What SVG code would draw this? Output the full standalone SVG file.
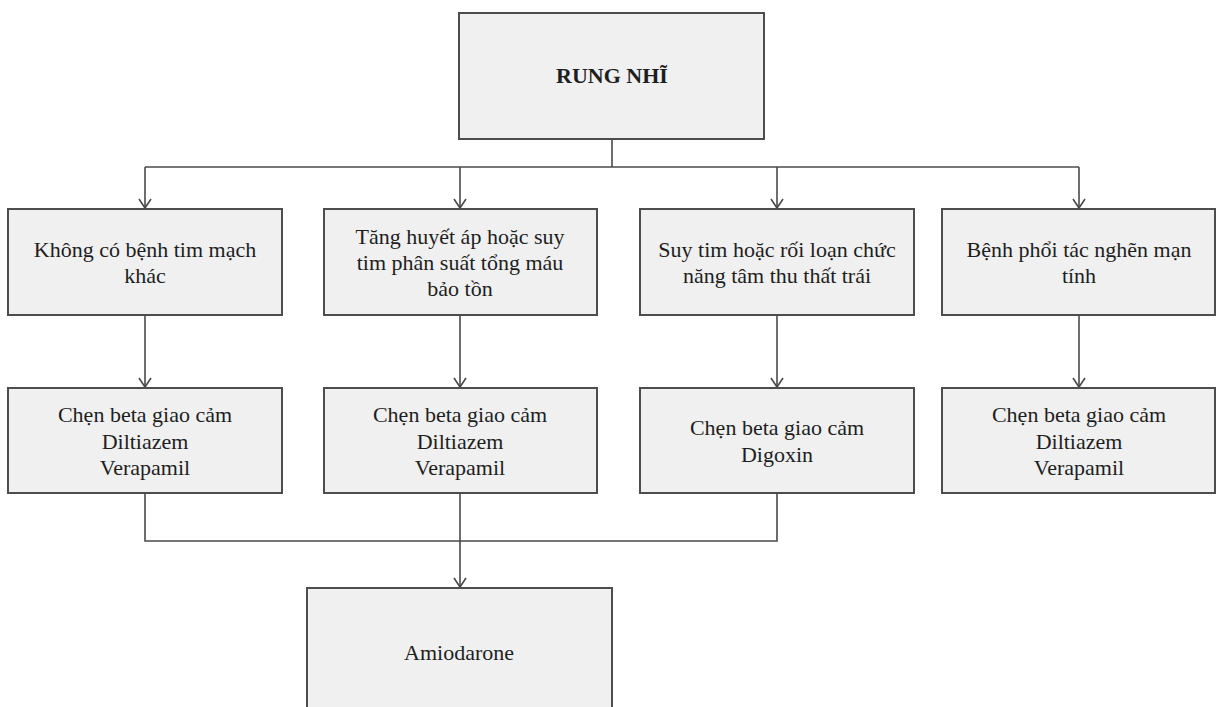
<svg xmlns="http://www.w3.org/2000/svg" width="1221" height="707" viewBox="0 0 1221 707">
  <style>
    .box { fill: #f0f0f0; stroke: #4d4d4d; stroke-width: 2; }
    .lbl { font-family: "Liberation Serif", "Times New Roman", serif; font-size: 22px; fill: #1e1e1e; text-anchor: middle; }
    .title { font-weight: bold; }
    .wire { fill: none; stroke: #4a4a4a; stroke-width: 1.6; }
  </style>
  <defs>
    <!-- open chevron head; marker x axis follows the line direction -->
    <marker id="arrow" markerUnits="userSpaceOnUse" markerWidth="14" markerHeight="16" viewBox="-12 -8 14 16" refX="0" refY="0" orient="auto">
      <path d="M-9,-6 L0,0 L-9,6" fill="none" stroke="#4a4a4a" stroke-width="1.6"/>
    </marker>
  </defs>
  <rect width="1221" height="707" fill="#ffffff"/>

  <!-- connectors -->
  <g id="connectors" class="wire">
    <path d="M612,139 V167"/>
    <path d="M145,167 H1079"/>
    <path d="M145,167 V208" marker-end="url(#arrow)"/>
    <path d="M460,167 V208" marker-end="url(#arrow)"/>
    <path d="M777,167 V208" marker-end="url(#arrow)"/>
    <path d="M1079,167 V208" marker-end="url(#arrow)"/>
    <path d="M145,315 V387" marker-end="url(#arrow)"/>
    <path d="M460,315 V387" marker-end="url(#arrow)"/>
    <path d="M777,315 V387" marker-end="url(#arrow)"/>
    <path d="M1079,315 V387" marker-end="url(#arrow)"/>
    <path d="M145,493 V541 H777 V493"/>
    <path d="M460,493 V587" marker-end="url(#arrow)"/>
  </g>

  <!-- root -->
  <g id="node-rung-nhi">
    <rect class="box" x="459" y="13" width="305" height="126"/>
    <text class="lbl title" x="612" y="83">RUNG NHĨ</text>
  </g>

  <!-- conditions -->
  <g id="node-khong-benh">
    <rect class="box" x="8" y="209" width="274" height="106"/>
    <text class="lbl" x="145" y="257">Không có bệnh  tim mạch</text>
    <text class="lbl" x="145" y="283">khác</text>
  </g>
  <g id="node-tang-huyet-ap">
    <rect class="box" x="324" y="209" width="273" height="106"/>
    <text class="lbl" x="460" y="244">Tăng  huyết áp hoặc suy</text>
    <text class="lbl" x="460" y="270">tim phân  suất  tổng máu</text>
    <text class="lbl" x="460" y="296">bảo tồn</text>
  </g>
  <g id="node-suy-tim">
    <rect class="box" x="640" y="209" width="274" height="106"/>
    <text class="lbl" x="777" y="257">Suy tim hoặc rối loạn chức</text>
    <text class="lbl" x="777" y="283">năng tâm thu thất trái</text>
  </g>
  <g id="node-copd">
    <rect class="box" x="942" y="209" width="273" height="106"/>
    <text class="lbl" x="1079" y="257">Bệnh phổi tác nghẽn  mạn</text>
    <text class="lbl" x="1079" y="283">tính</text>
  </g>

  <!-- treatments -->
  <g id="node-thuoc-1">
    <rect class="box" x="8" y="388" width="274" height="105"/>
    <text class="lbl" x="145" y="422">Chẹn beta giao cảm</text>
    <text class="lbl" x="145" y="449">Diltiazem</text>
    <text class="lbl" x="145" y="475">Verapamil</text>
  </g>
  <g id="node-thuoc-2">
    <rect class="box" x="324" y="388" width="273" height="105"/>
    <text class="lbl" x="460" y="422">Chẹn beta giao cảm</text>
    <text class="lbl" x="460" y="449">Diltiazem</text>
    <text class="lbl" x="460" y="475">Verapamil</text>
  </g>
  <g id="node-thuoc-3">
    <rect class="box" x="640" y="388" width="274" height="105"/>
    <text class="lbl" x="777" y="435">Chẹn beta giao cảm</text>
    <text class="lbl" x="777" y="462">Digoxin</text>
  </g>
  <g id="node-thuoc-4">
    <rect class="box" x="942" y="388" width="273" height="105"/>
    <text class="lbl" x="1079" y="422">Chẹn beta giao cảm</text>
    <text class="lbl" x="1079" y="449">Diltiazem</text>
    <text class="lbl" x="1079" y="475">Verapamil</text>
  </g>

  <!-- fallback -->
  <g id="node-amiodarone">
    <rect class="box" x="307" y="588" width="305" height="140"/>
    <text class="lbl" x="459" y="660">Amiodarone</text>
  </g>
</svg>
